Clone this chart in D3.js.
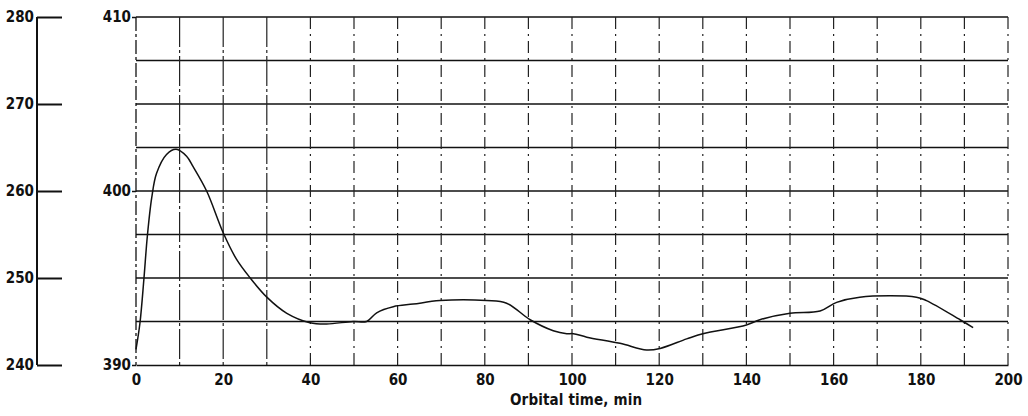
<!DOCTYPE html>
<html><head><meta charset="utf-8">
<script src="https://cdn.jsdelivr.net/npm/d3@7"></script>
<style>
body{margin:0;background:#fff;}
text{font-family:"DejaVu Sans Condensed","DejaVu Sans",sans-serif;font-weight:bold;fill:#111;}
</style></head><body>
<svg id="c" width="1028" height="416"></svg>
<script>
const timeMin = [0,0.9,1.8,2.6,3.6,4.7,7.0,9.2,11.6,13.1,16.2,20,23,26.2,30,34.6,39.9,43.7,49.8,52.9,55.2,59,63.6,69.7,80.4,85,90.4,95.7,98.8,100.3,103.4,111,117.1,120.2,126.3,130,140,143.1,150,156.9,160.7,166,179,181.3,189,192];
const value = [390.9,392.4,394.9,397.4,399.6,401.0,402.1,402.4,402.0,401.4,400.0,397.6,396.1,395.0,393.9,392.97,392.43,392.36,392.5,392.5,393.0,393.35,393.5,393.7,393.7,393.55,392.6,391.97,391.8,391.8,391.6,391.25,390.86,390.95,391.5,391.8,392.3,392.6,392.97,393.1,393.6,393.9,393.9,393.7,392.6,392.15];
const xTicks = [0,20,40,60,80,100,120,140,160,180,200];
const xGrid = [10,20,30,40,50,60,70,80,90,100,110,120,130,140,150,160,170,180,190,200];
const yTicks = [390,400,410];
const yGrid = [392.5,395,397.5,400,402.5,405,407.5,410];
const leftTicks = [240,250,260,270,280];
const xTitle = "Orbital time, min";

const svg = d3.select("#c");
const x = d3.scaleLinear().domain([0,200]).range([136,1008]);
const y = d3.scaleLinear().domain([390,410]).range([365,17]);
const yl = d3.scaleLinear().domain([240,280]).range([365,17]);

// horizontal grid
svg.append("g").selectAll("line").data(yGrid).join("line")
  .attr("x1",x(0)).attr("x2",x(200)).attr("y1",d=>y(d)).attr("y2",d=>y(d))
  .attr("stroke","#111").attr("stroke-width",1.3);
// vertical grid
svg.append("g").selectAll("line").data(xGrid).join("line")
  .attr("x1",d=>x(d)).attr("x2",d=>x(d)).attr("y1",y(410)).attr("y2",y(390))
  .attr("stroke","#222").attr("stroke-width",1.2)
  .attr("stroke-dasharray",d=>d<=30?"30,3,3,3":"12,5,2,5");
// left border dashed
svg.append("line").attr("x1",x(0)).attr("x2",x(0)).attr("y1",y(410)).attr("y2",y(390))
  .attr("stroke","#111").attr("stroke-width",1.3).attr("stroke-dasharray","14,3,3,3");
// bottom axis
const xa = svg.append("g").attr("transform",`translate(0,${y(390)})`)
  .call(d3.axisBottom(x).tickValues(xTicks).tickSize(0).tickPadding(9).tickFormat(d3.format("d")));
xa.select(".domain").attr("stroke","#111").attr("stroke-width",1.6);
xa.selectAll("text").attr("font-size",15).style("font-family","DejaVu Sans Condensed").style("font-weight","bold");
// main y labels
const ya = svg.append("g").attr("transform",`translate(${x(0)},0)`)
  .call(d3.axisLeft(y).tickValues(yTicks).tickSize(4).tickPadding(1).tickFormat(d3.format("d")));
ya.select(".domain").remove();
ya.selectAll("line").attr("stroke","#111").attr("stroke-width",1.5);
ya.selectAll("text").attr("font-size",15).style("font-family","DejaVu Sans Condensed").style("font-weight","bold");
// left secondary axis
const la = svg.append("g").attr("transform","translate(37,0)")
  .call(d3.axisRight(yl).tickValues(leftTicks).tickSize(25).tickFormat(""));
la.select(".domain").attr("d",`M0,${yl(280)}V${yl(240)}`).attr("stroke","#111").attr("stroke-width",2);
la.selectAll("line").attr("stroke","#111").attr("stroke-width",2);
svg.append("g").selectAll("text").data(leftTicks).join("text")
  .attr("x",34).attr("y",d=>yl(d)).attr("dy","0.35em").attr("text-anchor","end")
  .attr("font-size",15).text(d=>d);
// curve
svg.append("path").datum(timeMin.map((t,i)=>[t,value[i]]))
  .attr("d",d3.line().x(d=>x(d[0])).y(d=>y(d[1])).curve(d3.curveCatmullRom.alpha(0.5)))
  .attr("fill","none").attr("stroke","#111").attr("stroke-width",1.5);
// title
svg.append("text").attr("x",576).attr("y",405).attr("text-anchor","middle")
  .attr("font-size",15).attr("textLength",132).attr("lengthAdjust","spacing").text(xTitle);
</script></body></html>
